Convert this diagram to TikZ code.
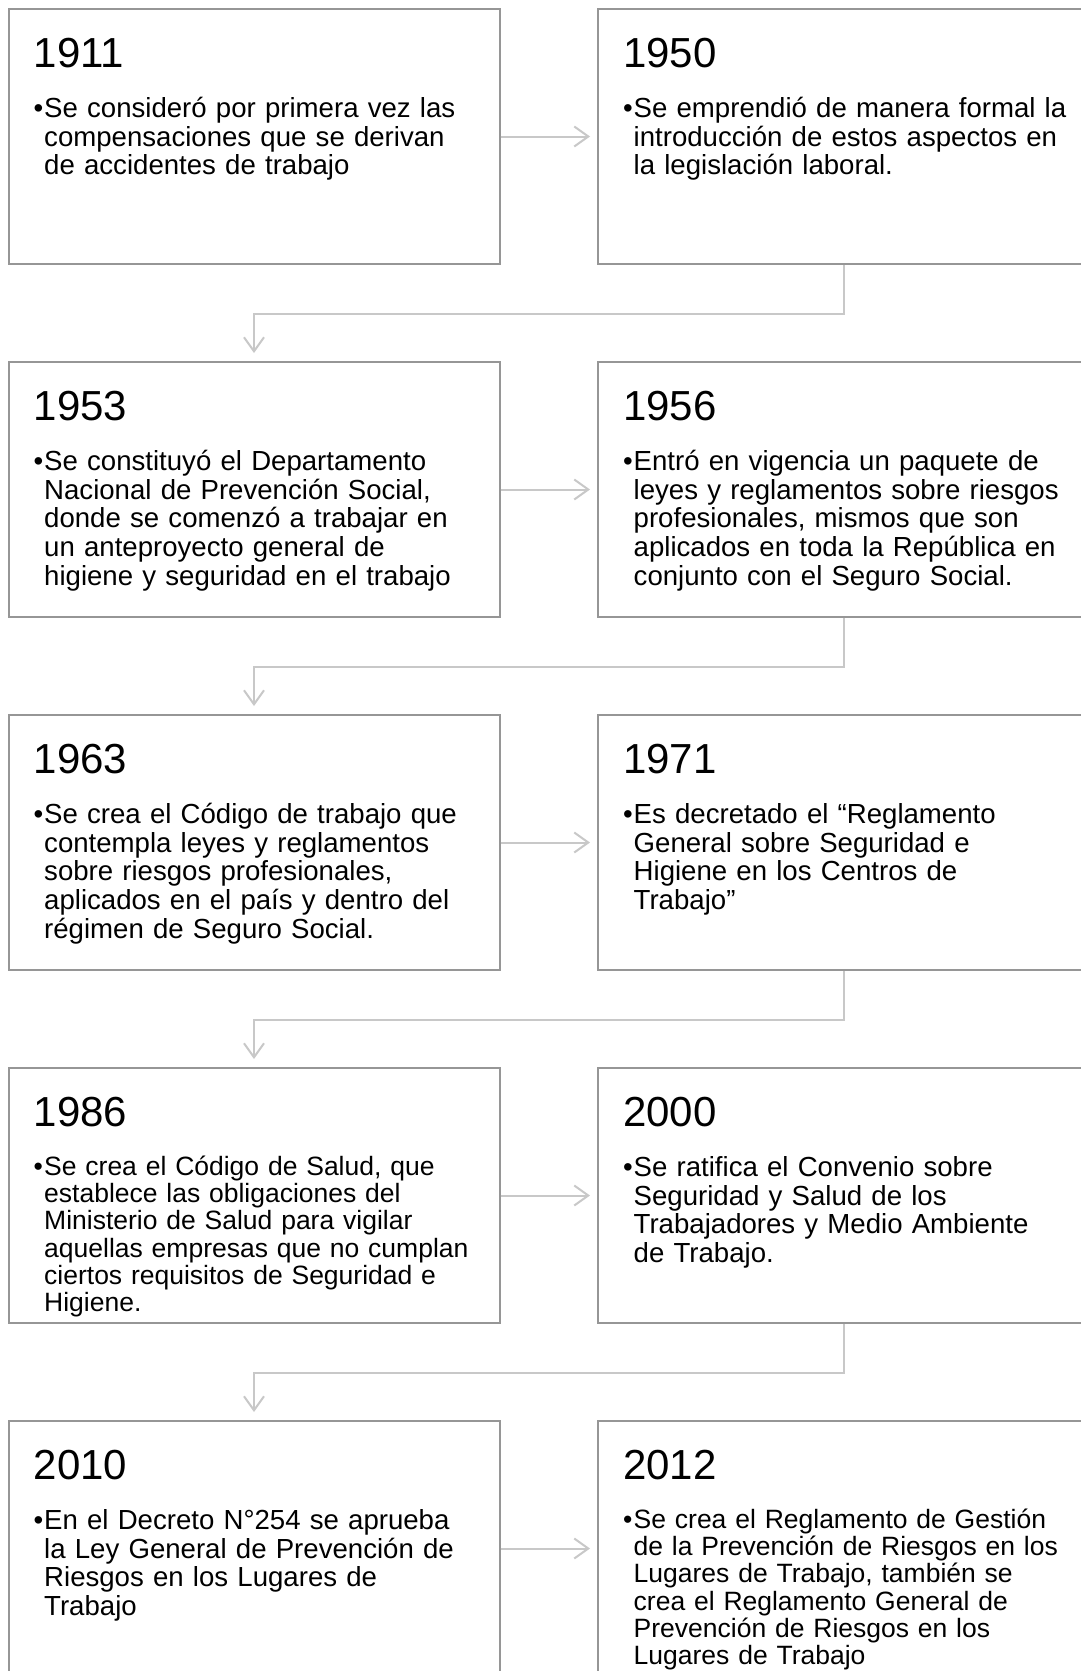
\documentclass[tikz,border=0pt]{standalone}
\usepackage{fontspec}
\setmainfont{Liberation Sans}
\usetikzlibrary{arrows.meta}
\definecolor{boxgray}{RGB}{150,150,150}
\definecolor{linkgray}{RGB}{200,200,200}
\newcommand\bodyfnt[2]{\fontsize{#1}{#2}\selectfont}
\newcommand\evbullet{\rule{0pt}{26pt}\llap{\makebox[10.5pt][l]{•}}}
\tikzset{
  evbox/.style={draw=boxgray, line width=2pt, minimum width=491pt, minimum height=255pt, anchor=north west, inner sep=0pt},
  yearlbl/.style={anchor=base west, inner sep=0pt, font=\fontsize{42}{48}\selectfont},
  bodylbl/.style={anchor=north west, inner sep=0pt, text width=450pt, align=left, font=\bodyfnt{27.6}{28.8}},
  bodysm/.style={bodylbl, font=\bodyfnt{26.5}{27.3}},
  link/.style={draw=linkgray, line width=2pt, -{Straight Barb[length=14pt,width=20pt]}},
}
\begin{document}
\begin{tikzpicture}[x=1pt,y=-1pt]
\useasboundingbox (0,0) rectangle (1081,1671);
\fill[white] (0,0) rectangle (1081,1671);
\clip (0,0) rectangle (1081,1671);

% boxes
\node[evbox] (b1) at (7.5,8) {};
\node[evbox] (b2) at (597,8) {};
\node[evbox] (b3) at (7.5,361) {};
\node[evbox] (b4) at (597,361) {};
\node[evbox] (b5) at (7.5,714) {};
\node[evbox] (b6) at (597,714) {};
\node[evbox] (b7) at (7.5,1067) {};
\node[evbox] (b8) at (597,1067) {};
\node[evbox] (b9) at (7.5,1420) {};
\node[evbox] (b10) at (597,1420) {};

% years
\node[yearlbl] (y1) at ([xshift=26pt,yshift=-59pt]b1.north west) {1911};
\node[yearlbl] (y2) at ([xshift=26pt,yshift=-59pt]b2.north west) {1950};
\node[yearlbl] (y3) at ([xshift=26pt,yshift=-59pt]b3.north west) {1953};
\node[yearlbl] (y4) at ([xshift=26pt,yshift=-59pt]b4.north west) {1956};
\node[yearlbl] (y5) at ([xshift=26pt,yshift=-59pt]b5.north west) {1963};
\node[yearlbl] (y6) at ([xshift=26pt,yshift=-59pt]b6.north west) {1971};
\node[yearlbl] (y7) at ([xshift=26pt,yshift=-59pt]b7.north west) {1986};
\node[yearlbl] (y8) at ([xshift=26pt,yshift=-59pt]b8.north west) {2000};
\node[yearlbl] (y9) at ([xshift=26pt,yshift=-59pt]b9.north west) {2010};
\node[yearlbl] (y10) at ([xshift=26pt,yshift=-59pt]b10.north west) {2012};

% texts
\node[bodylbl] (t1) at ([xshift=36.5pt,yshift=-83pt]b1.north west) {\evbullet Se consideró por primera vez las\\compensaciones que se derivan\\de accidentes de trabajo};
\node[bodylbl] (t2) at ([xshift=36.5pt,yshift=-83pt]b2.north west) {\evbullet Se emprendió de manera formal la\\introducción de estos aspectos en\\la legislación laboral.};
\node[bodylbl] (t3) at ([xshift=36.5pt,yshift=-83pt]b3.north west) {\evbullet Se constituyó el Departamento\\Nacional de Prevención Social,\\donde se comenzó a trabajar en\\un anteproyecto general de\\higiene y seguridad en el trabajo};
\node[bodylbl] (t4) at ([xshift=36.5pt,yshift=-83pt]b4.north west) {\evbullet Entró en vigencia un paquete de\\leyes y reglamentos sobre riesgos\\profesionales, mismos que son\\aplicados en toda la República en\\conjunto con el Seguro Social.};
\node[bodylbl] (t5) at ([xshift=36.5pt,yshift=-83pt]b5.north west) {\evbullet Se crea el Código de trabajo que\\contempla leyes y reglamentos\\sobre riesgos profesionales,\\aplicados en el país y dentro del\\régimen de Seguro Social.};
\node[bodylbl] (t6) at ([xshift=36.5pt,yshift=-83pt]b6.north west) {\evbullet Es decretado el “Reglamento\\General sobre Seguridad e\\Higiene en los Centros de\\Trabajo”};
\node[bodysm] (t7) at ([xshift=36.5pt,yshift=-82pt]b7.north west) {\evbullet Se crea el Código de Salud, que\\establece las obligaciones del\\Ministerio de Salud para vigilar\\aquellas empresas que no cumplan\\ciertos requisitos de Seguridad e\\Higiene.};
\node[bodylbl] (t8) at ([xshift=36.5pt,yshift=-83pt]b8.north west) {\evbullet Se ratifica el Convenio sobre\\Seguridad y Salud de los\\Trabajadores y Medio Ambiente\\de Trabajo.};
\node[bodylbl] (t9) at ([xshift=36.5pt,yshift=-83pt]b9.north west) {\evbullet En el Decreto N°254 se aprueba\\la Ley General de Prevención de\\Riesgos en los Lugares de\\Trabajo};
\node[bodysm] (t10) at ([xshift=36.5pt,yshift=-82pt]b10.north west) {\evbullet Se crea el Reglamento de Gestión\\de la Prevención de Riesgos en los\\Lugares de Trabajo, también se\\crea el Reglamento General de\\Prevención de Riesgos en los\\Lugares de Trabajo};

% connectors
\draw[link, shorten >=7pt] (b1.east) -- (b2.west);
\draw[link, shorten >=8pt] (b2.south) -- ++(0,49) -| (b3.north);
\draw[link, shorten >=7pt] (b3.east) -- (b4.west);
\draw[link, shorten >=8pt] (b4.south) -- ++(0,49) -| (b5.north);
\draw[link, shorten >=7pt] (b5.east) -- (b6.west);
\draw[link, shorten >=8pt] (b6.south) -- ++(0,49) -| (b7.north);
\draw[link, shorten >=7pt] (b7.east) -- (b8.west);
\draw[link, shorten >=8pt] (b8.south) -- ++(0,49) -| (b9.north);
\draw[link, shorten >=7pt] (b9.east) -- (b10.west);
\end{tikzpicture}
\end{document}
